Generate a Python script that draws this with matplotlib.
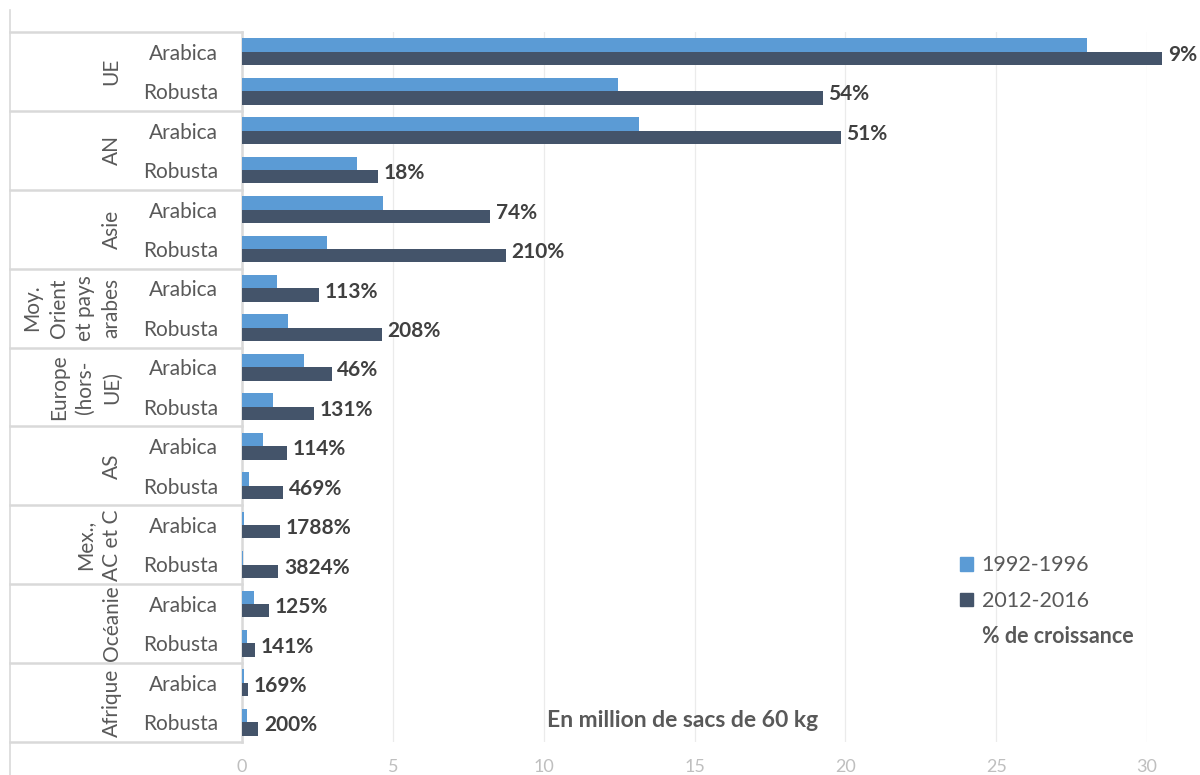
import matplotlib.pyplot as plt
from matplotlib.patches import Patch
import numpy as np

plt.rcParams['font.family'] = ['Lato', 'DejaVu Sans']

# Data (en million de sacs de 60 kg)
groupes = ['UE', 'AN', 'Asie', 'Moy.\nOrient\net pays\narabes', 'Europe\n(hors-\nUE)',
           'AS', 'Mex.,\nAC et C', 'Océanie', 'Afrique']
types = ['Arabica', 'Robusta']
periode_1 = [28.0, 12.46, 13.16, 3.81, 4.67, 2.82, 1.16, 1.52, 2.06, 1.02,
             0.69, 0.24, 0.067, 0.031, 0.40, 0.18, 0.07, 0.18]
periode_2 = [30.5, 19.26, 19.85, 4.50, 8.22, 8.75, 2.55, 4.64, 2.98, 2.39,
             1.48, 1.37, 1.26, 1.20, 0.90, 0.43, 0.19, 0.54]
croissance = ['9%', '54%', '51%', '18%', '74%', '210%', '113%', '208%', '46%', '131%',
              '114%', '469%', '1788%', '3824%', '125%', '141%', '169%', '200%']
legende = ['1992-1996', '2012-2016', '% de croissance']

couleur_1 = '#5B9BD5'
couleur_2 = '#44546A'
gris_texte = '#595959'
gris_ligne = '#D9D9D9'

fig = plt.figure(figsize=(12, 7.75), dpi=100)
ax = fig.add_axes([242 / 1200, 1 - 742 / 775, 905 / 1200, 710 / 775])

n = len(periode_1)
y = np.arange(n)
h = 0.34

# Barres (non coupees : la barre UE depasse 30)
ax.barh(y - h / 2, periode_1, height=h, color=couleur_1, label=legende[0],
        zorder=3, clip_on=False)
ax.barh(y + h / 2, periode_2, height=h, color=couleur_2, label=legende[1],
        zorder=3, clip_on=False)

# Etiquettes de croissance
for i in range(n):
    ax.annotate(croissance[i], (periode_2[i], y[i] + 0.08), xytext=(4, 0),
                textcoords='offset points', va='center', ha='left',
                fontsize=15, fontweight='bold', color='#404040', annotation_clip=False)

ax.set_xlim(0, 30)
ax.set_ylim(n - 0.5, -0.5)
ax.set_xticks(np.arange(0, 31, 5))
ax.grid(axis='x', color='#EBEBEB', linewidth=0.9, zorder=0)
ax.tick_params(axis='x', length=0, pad=12, labelsize=13, labelcolor='#BFBFBF')

# Sous-categories (Arabica / Robusta)
ax.set_yticks(y)
ax.set_yticklabels(types * len(groupes))
ax.tick_params(axis='y', length=0, pad=17, labelsize=15, labelcolor=gris_texte)

for s in ['top', 'right', 'bottom']:
    ax.spines[s].set_visible(False)
ax.spines['left'].set_color(gris_ligne)
ax.spines['left'].set_linewidth(1.8)

# Groupes (texte vertical) et separateurs
trans = ax.get_yaxis_transform()
x_bord = (10 - 242) / 905
for g, nom in enumerate(groupes):
    centre = 2 * g + 0.5
    ax.text(-0.133, centre, nom, rotation=90, ha='right', va='center',
            multialignment='center', fontsize=15, color=gris_texte,
            transform=trans, clip_on=False, linespacing=1.4)
for b in np.arange(-0.5, n, 2):
    ax.plot([x_bord, 0], [b, b], color=gris_ligne, linewidth=1.8,
            transform=trans, clip_on=False)

# Bordure gauche du graphique
fig.add_artist(plt.Line2D([10 / 1200, 10 / 1200], [0, 1 - 10 / 775],
                          color=gris_ligne, linewidth=1.2))

# Legende
poignees = [Patch(color=couleur_1), Patch(color=couleur_2),
            Patch(facecolor='none', edgecolor='none')]
leg = ax.legend(poignees, legende, loc='upper left', bbox_to_anchor=(0.772, 0.29),
                frameon=False, fontsize=15.5, handlelength=0.6, handleheight=0.6,
                handletextpad=0.4, labelspacing=0.72, labelcolor=gris_texte)
leg.get_texts()[2].set_fontweight('bold')

ax.text(0.487, 0.03, 'En million de sacs de 60 kg', transform=ax.transAxes,
        ha='center', va='center', fontsize=16.5, fontweight='bold', color=gris_texte)

plt.savefig('out.png', dpi=100)
